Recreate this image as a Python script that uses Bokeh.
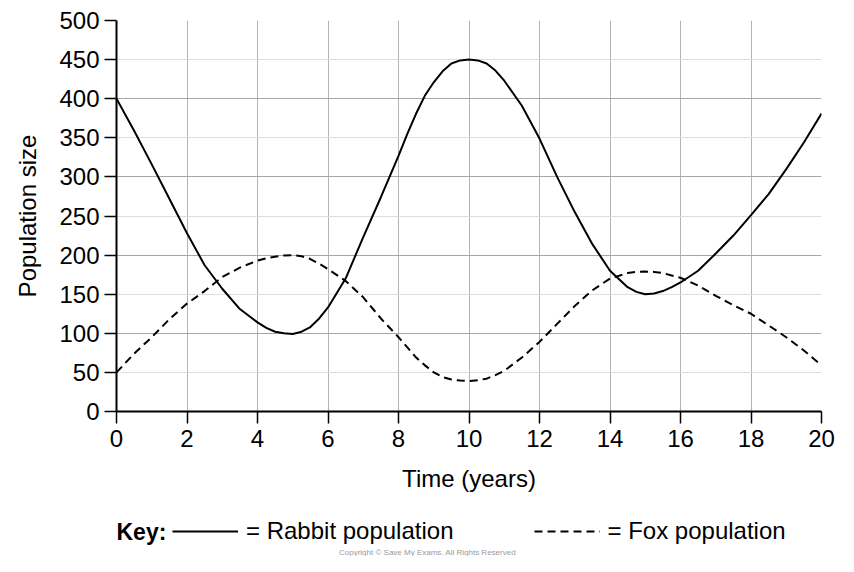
from bokeh.plotting import figure
from bokeh.models import (Range1d, FixedTicker, Grid, Legend, LegendItem, Label)
from bokeh.layouts import column
from bokeh.embed import file_html
from bokeh.resources import INLINE

# ---- data ----
years = [0, 0.5, 1, 1.5, 2, 2.5, 3, 3.5, 4, 4.25, 4.5, 4.75, 5, 5.25, 5.5, 5.75, 6, 6.5,
         7, 7.5, 8, 8.25, 8.5, 8.75, 9, 9.25, 9.5, 9.75, 10, 10.25, 10.5, 10.75, 11, 11.5,
         12, 12.5, 13, 13.5, 14, 14.5, 14.75, 15, 15.25, 15.5, 15.75, 16, 16.5, 17, 17.5,
         18, 18.5, 19, 19.5, 20]
rabbit = [400, 359, 316, 272, 228, 187, 157, 131, 114, 107, 102, 100, 99, 102, 108, 119,
          133, 170, 223, 274, 327, 355, 381, 404, 421, 435, 445, 449, 450, 449, 445, 436,
          423, 391, 349, 300, 255, 214, 180, 159, 153, 150, 151, 154, 159, 165, 180, 202,
          225, 251, 278, 310, 344, 381]
fox = [50, 74, 95, 118, 138, 154, 172, 184, 193, 196, 198, 199.5, 200, 198.5, 195, 189,
       182, 167, 146, 119, 95, 82, 69, 59, 50, 44, 41, 39.5, 39, 40, 42, 46.5, 52, 69, 89,
       112, 135, 155, 170, 177, 178.5, 179, 178.5, 177, 174, 171, 161, 148, 136, 125, 110,
       95, 78, 59]
x_ticks = [0, 2, 4, 6, 8, 10, 12, 14, 16, 18, 20]
y_ticks = [0, 50, 100, 150, 200, 250, 300, 350, 400, 450, 500]
y_major_grid = [100, 200, 300, 400, 500]
y_minor_grid = [50, 150, 250, 350, 450]
x_label = "Time (years)"
y_label = "Population size"
rabbit_label = "= Rabbit population"
fox_label = "= Fox population"
key_title = "Key:"
copyright_text = "Copyright \u00a9 Save My Exams. All Rights Reserved"

FONT = "Liberation Sans"
W = 838
H_MAIN = 501
H_KEY = 55

p = figure(width=W, height=H_MAIN, output_backend="svg", toolbar_location=None,
           x_range=Range1d(0, 20), y_range=Range1d(0, 500),
           min_border_left=116, min_border_right=17, min_border_top=20,
           min_border_bottom=90)
p.outline_line_color = None
p.background_fill_color = "white"
p.border_fill_color = "white"

# grids
p.xgrid.ticker = FixedTicker(ticks=x_ticks[1:])
p.xgrid.grid_line_color = "#b4b4b4"
p.xgrid.grid_line_width = 1
p.ygrid.ticker = FixedTicker(ticks=y_minor_grid)
p.ygrid.grid_line_color = "#dedede"
p.ygrid.grid_line_width = 1
p.add_layout(Grid(dimension=1, ticker=FixedTicker(ticks=y_major_grid),
                  grid_line_color="#a6a6a6", grid_line_width=1))

# axes
for ax in (p.xaxis[0], p.yaxis[0]):
    ax.axis_line_color = "black"
    ax.axis_line_width = 2
    ax.major_tick_line_color = "black"
    ax.major_tick_line_width = 1.5
    ax.major_tick_out = 12
    ax.major_tick_in = 0
    ax.minor_tick_line_color = None
    ax.major_label_text_font = FONT
    ax.major_label_text_font_size = "24px"
    ax.major_label_text_color = "black"
    ax.axis_label_text_font = FONT
    ax.axis_label_text_font_size = "24px"
    ax.axis_label_text_font_style = "normal"
    ax.axis_label_text_color = "black"

p.xaxis[0].ticker = FixedTicker(ticks=x_ticks)
p.yaxis[0].ticker = FixedTicker(ticks=y_ticks)
p.xaxis[0].axis_label = x_label
p.yaxis[0].axis_label = y_label
p.xaxis[0].major_label_standoff = 6
p.yaxis[0].major_label_standoff = 5
p.xaxis[0].axis_label_standoff = 15
p.yaxis[0].axis_label_standoff = 15

# curves
r_rabbit = p.line(years, rabbit, line_color="black", line_width=2)
r_fox = p.line(years, fox, line_color="black", line_width=2, line_dash="8 5")

# ---- key strip below the chart (frame is aligned with the chart frame) ----
k = figure(width=W, height=H_KEY, output_backend="svg", toolbar_location=None,
           x_range=Range1d(116, 821), y_range=Range1d(0, H_KEY),
           min_border_left=0, min_border_right=0, min_border_top=0,
           min_border_bottom=0)
k.axis.visible = False
k.grid.visible = False
k.outline_line_color = None
k.background_fill_color = "white"
k.border_fill_color = "white"

# key sample renderers: same series, drawn on a range that keeps them out of view
k.extra_y_ranges = {"hidden": Range1d(10000, 20000)}
kr_rabbit = k.line(years, rabbit, line_color="black", line_width=2,
                   y_range_name="hidden")
kr_fox = k.line(years, fox, line_color="black", line_width=2, line_dash="8 5",
                y_range_name="hidden")

legend = Legend(items=[LegendItem(label=rabbit_label, renderers=[kr_rabbit]),
                       LegendItem(label=fox_label, renderers=[kr_fox])],
                orientation="horizontal", location=(56, 11),
                label_text_font=FONT, label_text_font_size="24px",
                label_text_color="black",
                glyph_width=66, glyph_height=20, label_standoff=8, spacing=80,
                padding=0, margin=0, border_line_color=None,
                background_fill_alpha=0)
k.add_layout(legend, "center")

k.add_layout(Label(x=116, y=25, text=key_title, text_align="left",
                   text_baseline="middle", text_font=FONT, text_font_size="23px",
                   text_font_style="bold", text_color="black"))
k.add_layout(Label(x=427, y=4, text=copyright_text, text_align="center",
                   text_baseline="middle", text_font=FONT, text_font_size="8px",
                   text_color="#9a9a9a"))

layout = column(p, k, spacing=0)
open("out.html", "w").write(file_html(layout, INLINE))
